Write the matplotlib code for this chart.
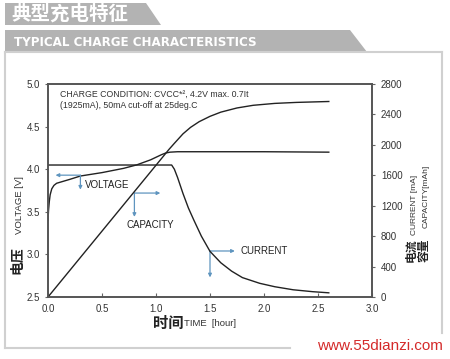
import matplotlib
matplotlib.use("Agg")
import matplotlib.pyplot as plt
from matplotlib.patches import Polygon
from matplotlib.lines import Line2D

# ---- data ----
t_volt = [0, 0.005, 0.012, 0.02, 0.035, 0.055, 0.08, 0.12, 0.2, 0.3, 0.5, 0.7,
          0.82, 0.95, 1.05, 1.09, 1.13, 1.2, 1.5, 2.0, 2.6]
volt = [3.40, 3.52, 3.62, 3.70, 3.77, 3.81, 3.835, 3.85, 3.88, 3.92, 3.96, 4.01,
        4.05, 4.11, 4.17, 4.19, 4.20, 4.205, 4.205, 4.205, 4.20]

t_curr = [0, 1.145, 1.17, 1.2, 1.25, 1.3, 1.35, 1.42, 1.5, 1.6, 1.7, 1.8, 1.96,
          2.1, 2.27, 2.45, 2.6]
curr = [1735, 1735, 1680, 1570, 1360, 1170, 1012, 800, 600, 450, 340, 255, 180,
        135, 95, 70, 55]

t_cap = [0, 1.12, 1.17, 1.25, 1.32, 1.4, 1.5, 1.6, 1.75, 1.9, 2.1, 2.3, 2.6]
cap = [0, 1940, 2020, 2145, 2230, 2305, 2375, 2430, 2485, 2520, 2545, 2558, 2570]

x_ticks = [0.0, 0.5, 1.0, 1.5, 2.0, 2.5, 3.0]
v_ticks = [2.5, 3.0, 3.5, 4.0, 4.5, 5.0]
ma_ticks = [0, 400, 800, 1200, 1600, 2000, 2400, 2800]

title_cn = "典型充电特征"
title_en = "TYPICAL CHARGE CHARACTERISTICS"
condition = "CHARGE CONDITION: CVCC*², 4.2V max. 0.7It\n(1925mA), 50mA cut-off at 25deg.C"

W, H = 450, 359
CJK = ["Noto Sans CJK SC", "DejaVu Sans"]
ARIAL = "Liberation Sans"
BLUE = "#5f95bf"
INK = "#222222"
GRAY = "#333333"


def px(x, y):
    # pixel coords of the picture -> figure fraction
    return (x / W, 1 - y / H)


fig = plt.figure(figsize=(4.5, 3.59), dpi=100)

# banners
for pts in ([(5, 3), (146, 3), (161, 25), (5, 25)],
            [(5, 30), (350, 30), (367, 52), (5, 52)]):
    fig.patches.append(Polygon([px(*p) for p in pts], closed=True,
                               transform=fig.transFigure,
                               facecolor="#b3b3b3", edgecolor="none"))
fig.text(*px(11, 14), title_cn, color="white", fontsize=14, fontweight="bold",
         family=CJK, va="center", ha="left")
fig.text(*px(14, 42), title_en, color="white", fontsize=8.6, fontweight="bold",
         family="DejaVu Sans", va="center", ha="left")

# light frame
frame = [((5, 52), (5, 348)), ((5, 52), (442, 52)), ((442, 52), (442, 333)),
         ((5, 348), (290, 348))]
for a, b in frame:
    fig.lines.append(Line2D([px(*a)[0], px(*b)[0]], [px(*a)[1], px(*b)[1]],
                            transform=fig.transFigure, color="#d0d0d0", lw=1.5))

ax = fig.add_axes([48 / W, 1 - 297 / H, 324 / W, 213 / H])
ax2 = ax.twinx()

ax.plot(t_volt, volt, color=INK, lw=1.0)
ax2.plot(t_curr, curr, color=INK, lw=1.0)
ax2.plot(t_cap, cap, color=INK, lw=1.0)

ax.set_xlim(0, 3.0)
ax.set_ylim(2.5, 5.0)
ax2.set_ylim(0, 2800)
ax.set_xticks(x_ticks)
ax.set_xticklabels([f"{v:.1f}" for v in x_ticks], fontsize=7, family=ARIAL, color=GRAY)
ax.set_yticks(v_ticks)
ax.set_yticklabels([f"{v:.1f}" for v in v_ticks], fontsize=7, family=ARIAL, color=GRAY)
ax2.set_yticks(ma_ticks)
ax2.set_yticklabels([str(v) for v in ma_ticks], fontsize=7, family=ARIAL, color=GRAY)

ax.tick_params(axis="x", direction="in", length=3, width=0.8, color="#666666", pad=5)
ax.tick_params(axis="y", direction="out", length=2.5, width=0.8, color="#666666", pad=3)
ax2.tick_params(axis="y", direction="out", length=2.5, width=0.8, color="#666666", pad=4)
for a in (ax, ax2):
    for s in a.spines.values():
        s.set_color("#555555")
        s.set_linewidth(1.2)

# condition note
ax.text(0.11, 4.93, condition, fontsize=6.3, family=ARIAL, color=GRAY,
        va="top", ha="left", linespacing=1.25)

# blue pointer arrows (corner, left/right tip, down tip)
arrow = dict(arrowstyle="-|>", color=BLUE, lw=0.9, mutation_scale=5,
             shrinkA=0, shrinkB=0)
pointers = [((0.30, 3.93), (0.07, 3.93), (0.30, 3.76)),
            ((0.80, 3.72), (1.04, 3.72), (0.80, 3.44)),
            ((1.50, 3.04), (1.73, 3.04), (1.50, 2.73))]
for corner, side, down in pointers:
    ax.annotate("", xy=side, xytext=corner, arrowprops=arrow)
    ax.annotate("", xy=down, xytext=corner, arrowprops=arrow)

ax.text(0.34, 3.81, "VOLTAGE", fontsize=7, family=ARIAL, color=INK, va="center")
ax.text(0.95, 3.35, "CAPACITY", fontsize=7, family=ARIAL, color=INK, va="center", ha="center")
ax.text(1.78, 3.04, "CURRENT", fontsize=7, family=ARIAL, color=INK, va="center")

# axis titles
fig.text(*px(17, 260), "电压", fontsize=10, family=CJK, fontweight="bold",
         rotation=90, va="center", ha="center", color=INK)
fig.text(*px(19, 205), "VOLTAGE [V]", fontsize=6.8, family=ARIAL,
         rotation=90, va="center", ha="center", color=GRAY)
fig.text(*px(168, 323), "时间", fontsize=11, family=CJK, fontweight="bold",
         va="center", ha="center", color=INK)
fig.text(*px(184, 324), "TIME  [hour]", fontsize=6.8, family=ARIAL,
         va="center", ha="left", color=GRAY)
fig.text(*px(411, 250), "电流", fontsize=8.5, family=CJK, fontweight="bold",
         rotation=90, va="center", ha="center", color=INK)
fig.text(*px(414, 205), "CURRENT [mA]", fontsize=6.0, family=ARIAL,
         rotation=90, va="center", ha="center", color=GRAY)
fig.text(*px(424, 250), "容量", fontsize=8.5, family=CJK, fontweight="bold",
         rotation=90, va="center", ha="center", color=INK)
fig.text(*px(426, 196), "CAPACITY[mAh]", fontsize=6.0, family=ARIAL,
         rotation=90, va="center", ha="center", color=GRAY)

# watermark
fig.text(*px(380, 346), "www.55dianzi.com", fontsize=11, family=ARIAL,
         color="#d42a2a", va="center", ha="center")

fig.savefig("out.png", dpi=100)
